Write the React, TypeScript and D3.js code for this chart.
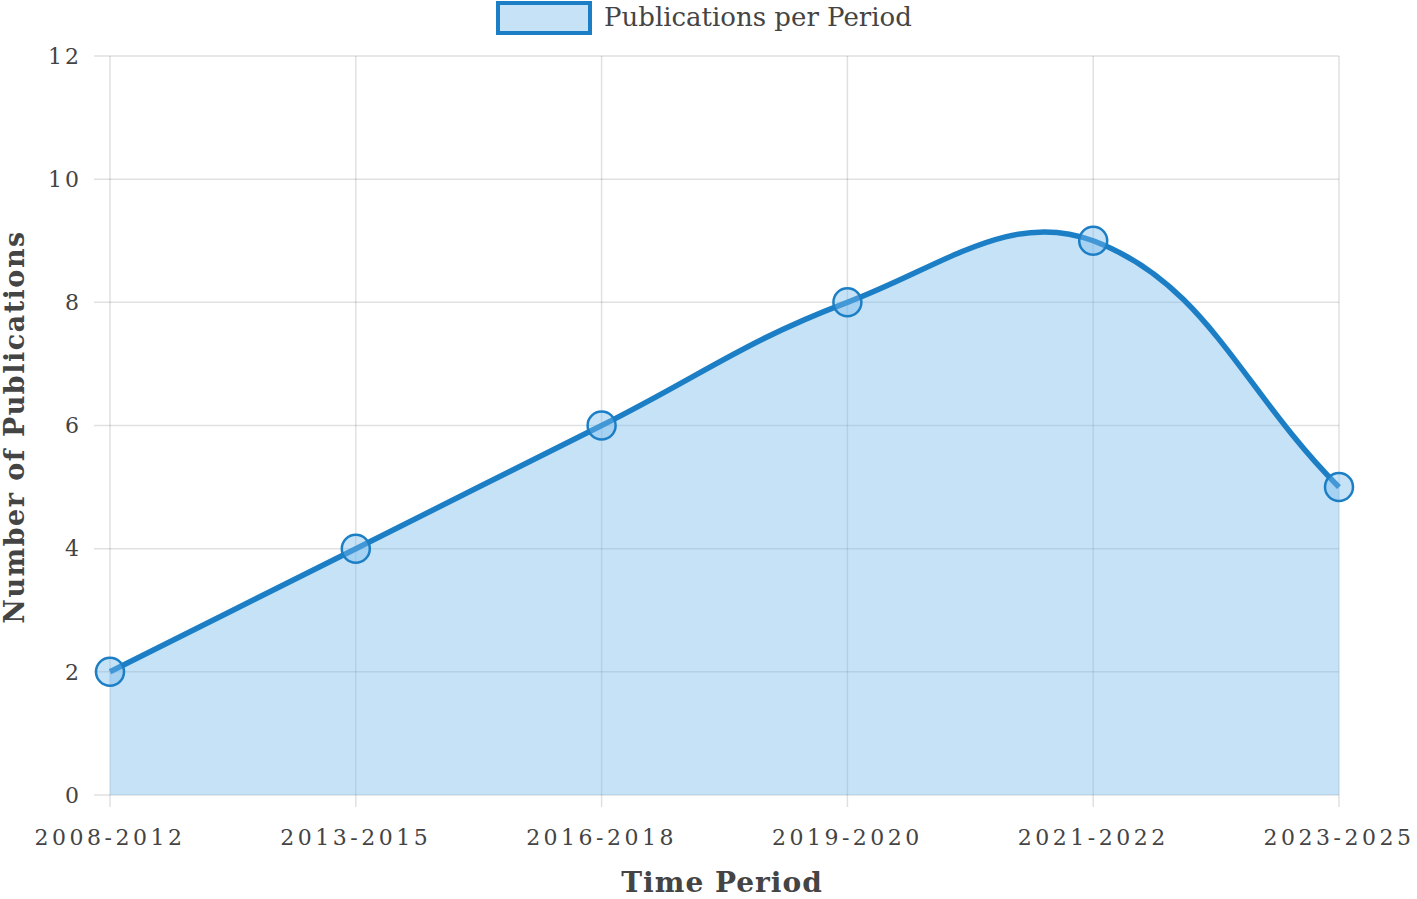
import React from "react";
import * as d3 from "d3";

const periods = ["2008-2012", "2013-2015", "2016-2018", "2019-2020", "2021-2022", "2023-2025"];
const publications = [2, 4, 6, 8, 9, 5];
const yTicks = [0, 2, 4, 6, 8, 10, 12];

const W = 1417;
const H = 899;
const margin = { top: 56, right: 78, bottom: 104, left: 110 };

const lineColor = "#1c7fc6";
const fillColor = "rgba(120,185,235,0.42)";
const gridColor = "rgba(0,0,0,0.12)";
const textColor = "#444";
const font = "'DejaVu Serif', serif";

// Chart.js style bezier (tension 0.4)
function splinePath(pts: [number, number][], tension: number) {
  const p = d3.path();
  const cps = pts.map((cur, i) => {
    const prev = pts[i - 1] || cur;
    const next = pts[i + 1] || cur;
    const d01 = Math.hypot(cur[0] - prev[0], cur[1] - prev[1]);
    const d12 = Math.hypot(next[0] - cur[0], next[1] - cur[1]);
    let s01 = d01 / (d01 + d12);
    let s12 = d12 / (d01 + d12);
    s01 = isNaN(s01) ? 0 : s01;
    s12 = isNaN(s12) ? 0 : s12;
    const fa = tension * s01;
    const fb = tension * s12;
    return {
      prev: [cur[0] - fa * (next[0] - prev[0]), cur[1] - fa * (next[1] - prev[1])],
      next: [cur[0] + fb * (next[0] - prev[0]), cur[1] + fb * (next[1] - prev[1])],
    };
  });
  p.moveTo(pts[0][0], pts[0][1]);
  for (let i = 1; i < pts.length; i++) {
    const a = cps[i - 1].next;
    const b = cps[i].prev;
    p.bezierCurveTo(a[0], a[1], b[0], b[1], pts[i][0], pts[i][1]);
  }
  return p.toString();
}

export default function App() {
  const x = d3
    .scalePoint<string>()
    .domain(periods)
    .range([margin.left, W - margin.right]);
  const y = d3
    .scaleLinear()
    .domain([0, 12])
    .range([H - margin.bottom, margin.top]);

  const pts: [number, number][] = periods.map((p, i) => [x(p)!, y(publications[i])]);
  const linePath = splinePath(pts, 0.4);
  const areaPath =
    linePath +
    `L${pts[pts.length - 1][0]},${y(0)}L${pts[0][0]},${y(0)}Z`;

  const x0 = margin.left;
  const x1 = W - margin.right;
  const yb = y(0);
  const yt = y(12);

  return (
    <svg width={W} height={H} style={{ position: "absolute", left: 0, top: 0, background: "#fff" }}>
      {/* legend */}
      <rect x={498} y={3} width={92} height={30} fill={fillColor} stroke={lineColor} strokeWidth={4} />
      <text x={604} y={26} fontFamily={font} fontSize={26} fill={textColor}>
        Publications per Period
      </text>

      {/* horizontal grid */}
      {yTicks.map((t) => (
        <g key={"y" + t}>
          <line x1={x0 - 16} x2={x1} y1={y(t)} y2={y(t)} stroke={gridColor} strokeWidth={1.5} />
          <text
            x={82}
            y={y(t)}
            dy="0.35em"
            textAnchor="end"
            fontFamily={font}
            fontSize={22}
            letterSpacing={3}
            fill={textColor}
          >
            {t}
          </text>
        </g>
      ))}

      {/* vertical grid */}
      {periods.map((p) => (
        <g key={p}>
          <line x1={x(p)} x2={x(p)} y1={yt} y2={yb + 12} stroke={gridColor} strokeWidth={1.5} />
          <text
            x={x(p)}
            y={845}
            textAnchor="middle"
            fontFamily={font}
            fontSize={22}
            letterSpacing={3.5}
            fill={textColor}
          >
            {p}
          </text>
        </g>
      ))}

      {/* area + line */}
      <path d={areaPath} fill={fillColor} stroke="none" />
      <path d={linePath} fill="none" stroke={lineColor} strokeWidth={5.5} />

      {pts.map((pt, i) => (
        <circle
          key={i}
          cx={pt[0]}
          cy={pt[1]}
          r={14}
          fill="rgba(120,185,235,0.42)"
          stroke={lineColor}
          strokeWidth={2.5}
        />
      ))}

      {/* axis titles */}
      <text
        x={722}
        y={892}
        textAnchor="middle"
        fontFamily={font}
        fontSize={28}
        fontWeight="bold"
        letterSpacing={1}
        fill={textColor}
      >
        Time Period
      </text>
      <text
        transform={`translate(24,${427}) rotate(-90)`}
        textAnchor="middle"
        fontFamily={font}
        fontSize={27}
        fontWeight="bold"
        letterSpacing={1.5}
        fill={textColor}
      >
        Number of Publications
      </text>
    </svg>
  );
}
